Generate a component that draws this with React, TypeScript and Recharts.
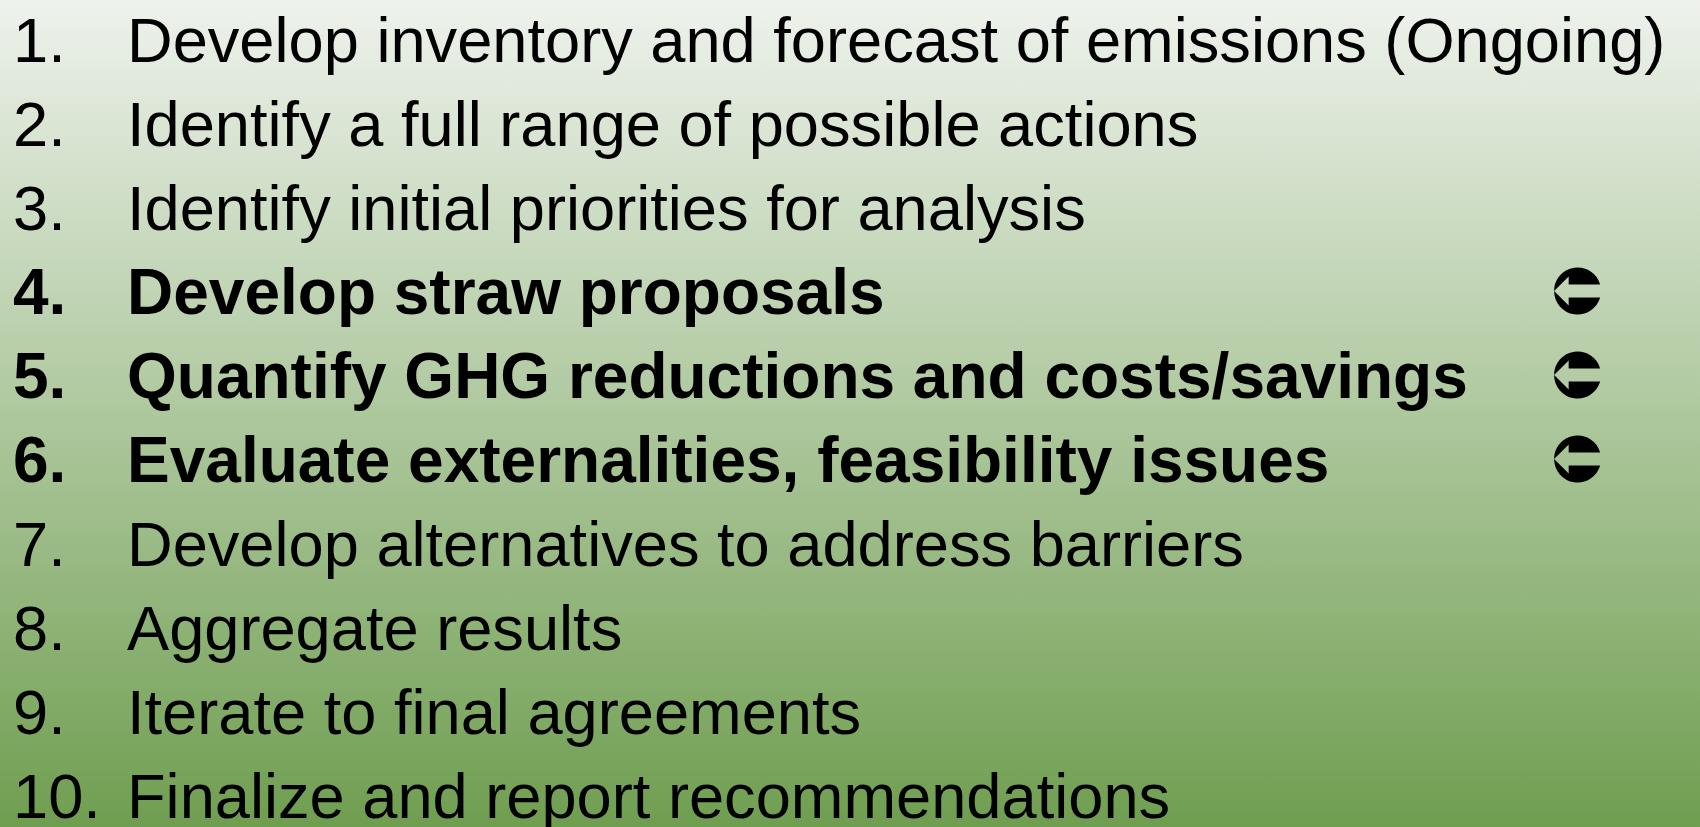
import { ComposedChart, Scatter, XAxis, YAxis } from 'recharts'

const steps = [
  'Develop inventory and forecast of emissions (Ongoing)',
  'Identify a full range of possible actions',
  'Identify initial priorities for analysis',
  'Develop straw proposals',
  'Quantify GHG reductions and costs/savings',
  'Evaluate externalities, feasibility issues',
  'Develop alternatives to address barriers',
  'Aggregate results',
  'Iterate to final agreements',
  'Finalize and report recommendations',
]

// steps currently in progress: drawn in bold with a marker
const current = [4, 5, 6]

const TEXT_COL = 0
const FLAG_COL = 92.8

const FONT = '"Liberation Sans", Arial, Helvetica, sans-serif'

const rows = steps.map((label, i) => ({
  step: i + 1,
  label,
  bold: current.includes(i + 1),
  x: TEXT_COL,
}))

const flags = current.map(step => ({ step, x: FLAG_COL }))

function StepText(props: any) {
  const { cx, cy, payload } = props
  const weight = payload.bold ? 700 : 400
  const size = payload.bold ? 64 : 63.2
  return (
    <g>
      <text x={cx + 13} y={cy} fontFamily={FONT} fontSize={size} fontWeight={weight} fill="#000">
        {`${payload.step}.`}
      </text>
      <text x={cx + 127} y={cy} fontFamily={FONT} fontSize={size} fontWeight={weight} fill="#000">
        {payload.label}
      </text>
    </g>
  )
}

function ArrowMark(props: any) {
  const { cx, cy } = props
  const r = 23.5
  const y = cy - 23
  const sx = Math.sqrt(1 - 0.28 * 0.28) * r
  const top = `M ${cx - r} ${y} A ${r} ${r} 0 0 1 ${cx + sx} ${y - 0.28 * r} L ${cx - 0.38 * r} ${y - 0.28 * r} L ${cx - 0.38 * r} ${y - 0.62 * r} Z`
  const bot = `M ${cx - r} ${y} A ${r} ${r} 0 0 0 ${cx + sx} ${y + 0.28 * r} L ${cx - 0.38 * r} ${y + 0.28 * r} L ${cx - 0.38 * r} ${y + 0.62 * r} Z`
  return (
    <g>
      <path d={top} fill="#000" />
      <path d={bot} fill="#000" />
    </g>
  )
}

export default function App() {
  return (
    <div
      style={{
        position: 'absolute',
        left: 0,
        top: 0,
        width: 1700,
        height: 827,
        background: 'linear-gradient(to bottom, #eef2ec 0%, #aec89e 50%, #6f9e50 100%)',
      }}
    >
      <ComposedChart width={1700} height={827} margin={{ top: 0, right: 0, bottom: 0, left: 0 }}>
        <XAxis type="number" dataKey="x" domain={[0, 100]} hide />
        <YAxis type="number" dataKey="step" domain={[0.262, 10.107]} reversed hide />
        <Scatter data={rows} shape={StepText} isAnimationActive={false} />
        <Scatter data={flags} shape={ArrowMark} isAnimationActive={false} />
      </ComposedChart>
    </div>
  )
}
